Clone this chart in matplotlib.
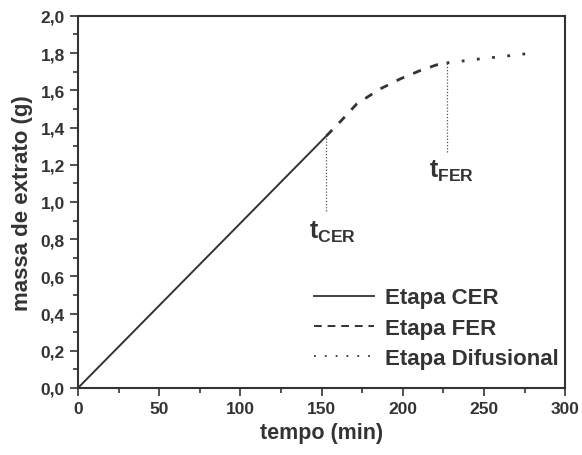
import matplotlib
matplotlib.use('Agg')
import matplotlib.pyplot as plt
from matplotlib.ticker import MultipleLocator

plt.rcParams['font.family'] = ['Liberation Sans', 'DejaVu Sans']

# etapa CER (linear)
t_cer = [0, 153]
m_cer = [0.0, 1.355]
# etapa FER (queda da taxa)
t_fer = [153, 161.4, 171.7, 186, 198.4, 210.7, 221, 227]
m_fer = [1.355, 1.43, 1.527, 1.607, 1.661, 1.706, 1.737, 1.747]
# etapa difusional
t_dif = [227, 247.7, 268, 275.4]
m_dif = [1.747, 1.769, 1.788, 1.796]

tcer_x, tcer_top, tcer_bot = 153, 1.355, 0.95
tfer_x, tfer_top, tfer_bot = 227, 1.747, 1.27

fig = plt.figure(figsize=(5.82, 4.56), dpi=100)
ax = fig.add_axes([0.134, 0.147, 0.837, 0.816])

ax.plot(t_cer, m_cer, color='#333333', lw=1.4, label='Etapa CER')
ax.plot(t_fer, m_fer, color='#333333', lw=2.0, ls=(0, (3, 3.5)), label='Etapa FER')
ax.plot(t_dif, m_dif, color='#333333', lw=2.0, ls=(0, (1, 4.5)), label='Etapa Difusional')

ax.plot([tcer_x, tcer_x], [tcer_bot, tcer_top], color='#555555', lw=0.9, ls=(0, (1, 1.5)))
ax.plot([tfer_x, tfer_x], [tfer_bot, tfer_top], color='#555555', lw=0.9, ls=(0, (1, 1.5)))
ax.text(tcer_x - 11, 0.84, r't$_{\mathregular{CER}}$', fontsize=18, color='#333333',
        fontweight='bold', ha='left', va='center')
ax.text(tfer_x - 11, 1.17, r't$_{\mathregular{FER}}$', fontsize=18, color='#333333',
        fontweight='bold', ha='left', va='center')

ax.set_xlim(0, 300)
ax.set_ylim(0, 2.0)
ax.xaxis.set_major_locator(MultipleLocator(50))
ax.xaxis.set_minor_locator(MultipleLocator(25))
ax.yaxis.set_major_locator(MultipleLocator(0.2))
ax.yaxis.set_minor_locator(MultipleLocator(0.1))
yt = [i * 0.2 for i in range(11)]
ax.set_yticks(yt)
ax.set_yticklabels([('%.1f' % v).replace('.', ',') for v in yt])

ax.tick_params(which='both', direction='out', top=False, right=False,
               labelsize=12.5, colors='#333333', width=1.2)
ax.tick_params(which='major', length=6)
ax.tick_params(which='minor', length=3.5)
for lab in ax.get_xticklabels() + ax.get_yticklabels():
    lab.set_fontweight('bold')
for s in ax.spines.values():
    s.set_linewidth(1.5)
    s.set_color('#333333')

ax.set_xlabel('tempo (min)', fontsize=15.5, fontweight='bold', color='#333333', labelpad=4)
ax.set_ylabel('massa de extrato (g)', fontsize=16, fontweight='bold', color='#333333', labelpad=5)

leg = ax.legend(loc='lower right', bbox_to_anchor=(1.025, 0.0), frameon=False, fontsize=16,
                handlelength=2.7, handletextpad=0.5, labelspacing=0.42, borderaxespad=0.45)
for t in leg.get_texts():
    t.set_color('#333333')
    t.set_fontweight('bold')
hl = leg.get_lines()
hl[0].set_linewidth(1.3)
hl[1].set_linewidth(1.4)
hl[1].set_linestyle((0, (4, 3)))
hl[2].set_linewidth(1.3)
hl[2].set_linestyle((0, (1, 5)))

fig.savefig('out.png', dpi=100)
plt.close(fig)
